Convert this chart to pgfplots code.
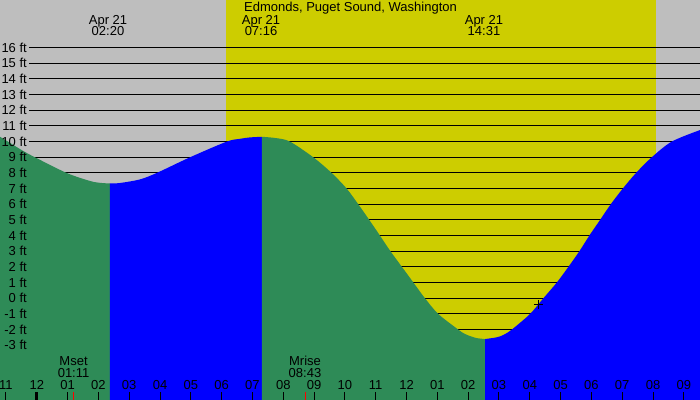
\documentclass[border=0pt]{standalone}
\usepackage{fontspec}
\setmainfont{Liberation Sans}
\usepackage{pgfplots}
\pgfplotsset{compat=1.18}

\definecolor{bggray}{RGB}{190,190,190}
\definecolor{dayyellow}{RGB}{205,205,0}
\definecolor{ebbgreen}{RGB}{46,139,87}
\definecolor{floodblue}{RGB}{0,0,255}

\begin{document}
\fontsize{13bp}{15bp}\selectfont
\begin{tikzpicture}[lbl/.style={anchor=base, inner sep=0pt}]
\begin{axis}[
  scale only axis,
  width=700bp, height=400bp,
  xmin=-1.194, xmax=21.525,
  ymin=-6.49, ymax=19.04,
  axis background/.style={fill=bggray},
  axis line style={draw=none},
  axis on top,
  tick align=inside,
  xtick pos=left, ytick pos=left,
  major tick length=8.3bp,
  xtick={-1,0,...,21},
  xticklabels={11,12,01,02,03,04,05,06,07,08,09,10,11,12,01,02,03,04,05,06,07,08,09},
  xtick style={black, line width=1bp},
  xticklabel style={anchor=base, yshift=10bp},
  extra x ticks={0},
  extra x tick labels={},
  extra x tick style={xtick style={black, line width=2.7bp}},
  ytick={-3,...,16},
  yticklabels={-3 ft,-2 ft,-1 ft,0 ft,1 ft,2 ft,3 ft,4 ft,5 ft,6 ft,7 ft,8 ft,9 ft,10 ft,11 ft,12 ft,13 ft,14 ft,15 ft,16 ft},
  ytick style={draw=none},
  yticklabel style={anchor=east, inner sep=0pt, xshift=27bp},
]
\coordinate (sw) at (rel axis cs:0,0);
\coordinate (ne) at (rel axis cs:1,1);

% daylight
\addplot[fill=dayyellow, draw=none] coordinates {(6.14,-7) (6.14,20) (20.09,20) (20.09,-7)};

% foot lines
\pgfplotsinvokeforeach{-3,...,16}{
  \addplot[black, line width=1bp] coordinates {(-0.243,#1) (22,#1)};
}

% tide, falling = green, rising = blue
\addplot[fill=ebbgreen, draw=none, smooth] coordinates {
  (-1.35,10.42) (-1.194,10.31) (-0.490,9.46) (-0.058,9.00) (0.970,8.00)
  (1.727,7.49) (2.051,7.37) (2.376,7.33)
} -- (2.376,-7) -- (-1.35,-7) -- cycle;
\addplot[fill=floodblue, draw=none, smooth] coordinates {
  (2.376,7.33) (2.700,7.36) (3.349,7.59) (3.892,8.00) (4.972,9.00)
  (6.164,10.00) (6.596,10.18) (6.921,10.27) (7.309,10.31)
} -- (7.309,-7) -- (2.376,-7) -- cycle;
\addplot[fill=ebbgreen, draw=none, smooth] coordinates {
  (7.309,10.31) (7.786,10.22) (8.218,10.00) (8.974,9.00) (9.571,8.00)
  (10.058,7.00) (10.435,6.00) (10.792,5.00) (11.139,4.00) (11.480,3.00)
  (11.853,2.00) (12.226,1.00) (12.600,0.00) (13.031,-1.00) (13.681,-2.00)
  (13.898,-2.28) (14.061,-2.41) (14.278,-2.54) (14.547,-2.60)
} -- (14.547,-7) -- (7.309,-7) -- cycle;
\addplot[fill=floodblue, draw=none, smooth] coordinates {
  (14.547,-2.60) (14.927,-2.49) (15.141,-2.34) (15.414,-2.00) (16.008,-1.00)
  (16.440,0.00) (16.874,1.00) (17.251,2.00) (17.608,3.00) (17.932,4.00)
  (18.280,5.00) (18.627,6.00) (19.017,7.00) (19.448,8.00) (19.958,9.00)
  (20.607,10.00) (21.525,10.74) (21.7,10.82)
} -- (21.7,-7) -- (14.547,-7) -- cycle;

% moon ticks
\addplot[red, line width=1bp] coordinates {(1.183,-7) (1.183,-5.96)};
\addplot[red, line width=1bp] coordinates {(8.717,-7) (8.717,-5.96)};

% current time
\addplot[only marks, mark=+, mark size=4.5bp, black, line width=1bp] coordinates {(16.28,-0.38)};

% texts
\node[lbl] at (rel axis cs:0.5007,0.97) {Edmonds, Puget Sound, Washington};
\node[lbl] at (rel axis cs:0.1543,0.93875) {Apr 21};
\node[lbl] at (rel axis cs:0.1543,0.91) {02:20};
\node[lbl] at (rel axis cs:0.3729,0.93875) {Apr 21};
\node[lbl] at (rel axis cs:0.3729,0.91) {07:16};
\node[lbl] at (rel axis cs:0.6914,0.93875) {Apr 21};
\node[lbl] at (rel axis cs:0.6914,0.91) {14:31};
\node[lbl] at (rel axis cs:0.1051,0.085) {Mset};
\node[lbl] at (rel axis cs:0.1051,0.0568) {01:11};
\node[lbl] at (rel axis cs:0.4357,0.085) {Mrise};
\node[lbl] at (rel axis cs:0.4357,0.0568) {08:43};
\end{axis}
\pgfresetboundingbox
\path[use as bounding box] (sw) rectangle (ne);
\end{tikzpicture}
\end{document}
